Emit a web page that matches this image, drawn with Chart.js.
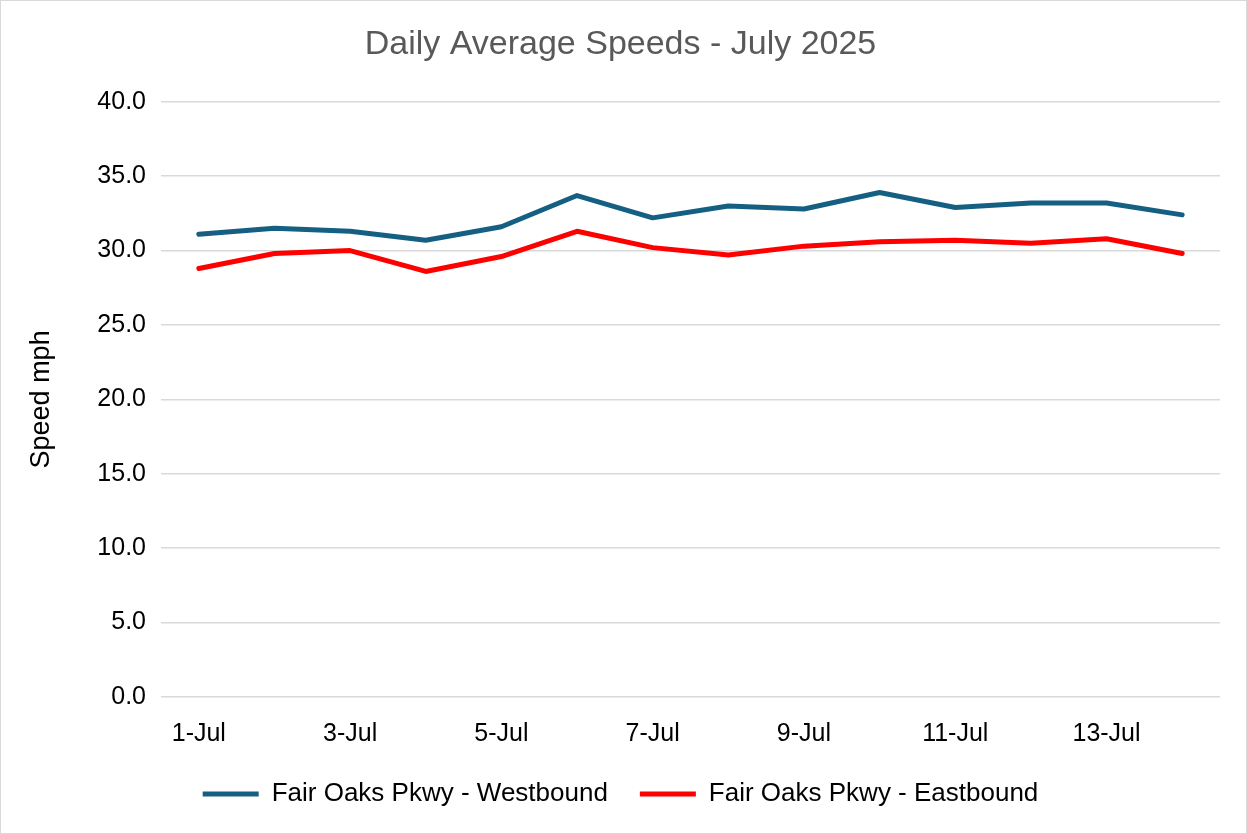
<!DOCTYPE html>
<html>
<head>
<meta charset="utf-8">
<script src="https://cdn.jsdelivr.net/npm/chart.js@4"></script>
<style>
  body { margin: 0; background: #fff; }
  #wrap { width: 1245px; height: 832px; border: 1px solid #d9d9d9; }
</style>
</head>
<body>
<div id="wrap"><canvas id="speed-chart" width="1245" height="832"></canvas></div>
<script>
const days = ['1-Jul', '2-Jul', '3-Jul', '4-Jul', '5-Jul', '6-Jul', '7-Jul',
  '8-Jul', '9-Jul', '10-Jul', '11-Jul', '12-Jul', '13-Jul', '14-Jul'];
const westbound = [31.1, 31.5, 31.3, 30.7, 31.6, 33.7, 32.2, 33.0, 32.8, 33.9, 32.9, 33.2, 33.2, 32.4];
const eastbound = [28.8, 29.8, 30.0, 28.6, 29.6, 31.3, 30.2, 29.7, 30.3, 30.6, 30.7, 30.5, 30.8, 29.8];
const yTicks = [0, 5, 10, 15, 20, 25, 30, 35, 40];

const FONT = "'Liberation Sans', Arial, sans-serif";

new Chart(document.getElementById('speed-chart'), {
  type: 'line',
  data: {
    labels: days,
    datasets: [
      { label: 'Fair Oaks Pkwy - Westbound', data: westbound, borderColor: '#156082', backgroundColor: '#156082',
        borderWidth: 5, pointRadius: 0, borderCapStyle: 'round', borderJoinStyle: 'round', tension: 0 },
      { label: 'Fair Oaks Pkwy - Eastbound', data: eastbound, borderColor: '#ff0000', backgroundColor: '#ff0000',
        borderWidth: 5, pointRadius: 0, borderCapStyle: 'round', borderJoinStyle: 'round', tension: 0 }
    ]
  },
  options: {
    responsive: false,
    animation: false,
    layout: { padding: { left: 20, right: 26, top: 0, bottom: 16 } },
    plugins: {
      title: {
        display: true,
        text: 'Daily Average Speeds - July 2025',
        color: '#595959',
        font: { family: FONT, size: 34, weight: 'normal' },
        padding: { top: 23, bottom: 37 }
      },
      legend: {
        position: 'bottom',
        labels: {
          color: '#000',
          font: { family: FONT, size: 26 },
          usePointStyle: true,
          pointStyle: 'line',
          pointStyleWidth: 56,
          padding: 32
        }
      },
      tooltip: { enabled: false }
    },
    scales: {
      x: {
        offset: true,
        grid: { display: false },
        border: { display: false },
        ticks: {
          color: '#000',
          font: { family: FONT, size: 25 },
          autoSkip: false,
          maxRotation: 0,
          padding: 14,
          callback: (v, i) => (i % 2 === 0 ? days[i] : '')
        },
        afterFit: s => { s.height = 52; }
      },
      y: {
        min: 0,
        max: 40,
        afterBuildTicks: s => { s.ticks = yTicks.map(v => ({ value: v })); },
        grid: { color: '#d9d9d9', lineWidth: 1.5, drawTicks: false },
        border: { display: false },
        ticks: {
          color: '#000',
          font: { family: FONT, size: 25 },
          padding: 15,
          callback: v => v.toFixed(1)
        },
        title: {
          display: true,
          text: 'Speed mph',
          color: '#000',
          font: { family: FONT, size: 27 },
          padding: { top: 4, bottom: 0 }
        },
        afterFit: s => { s.width = 140; }
      }
    }
  }
});
</script>
</body>
</html>
